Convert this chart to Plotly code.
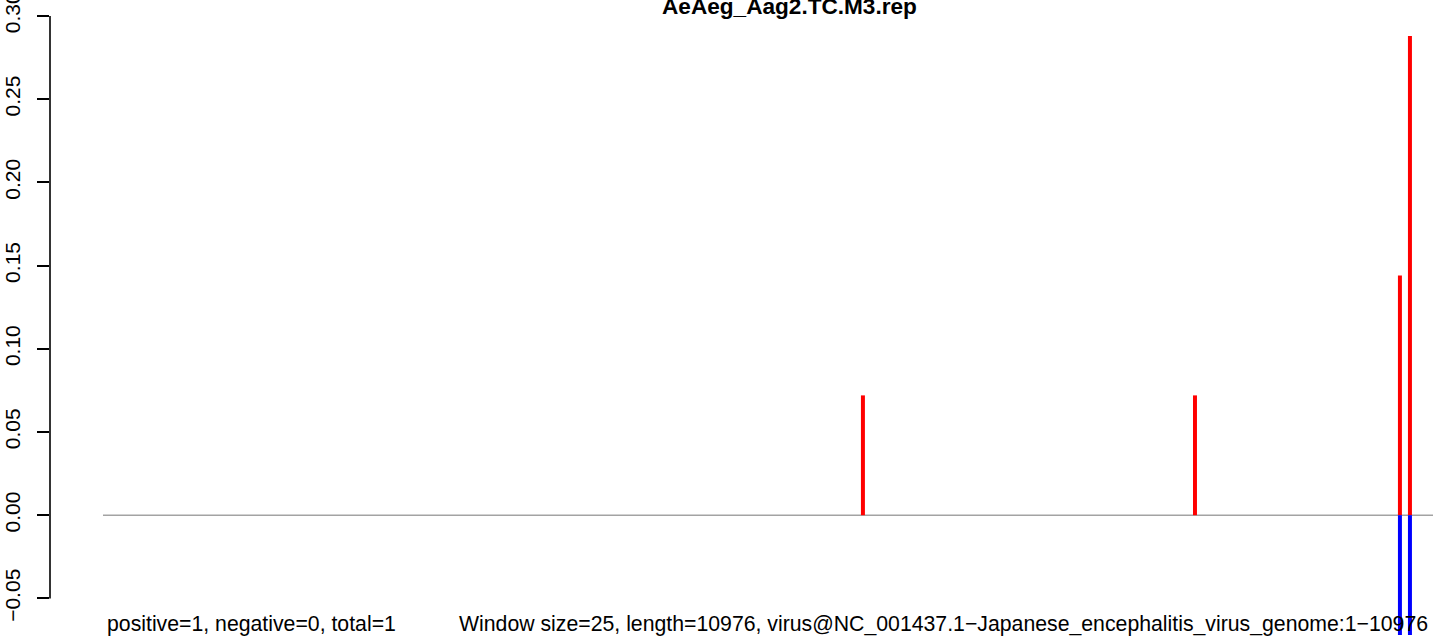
import plotly.graph_objects as go

# Window counts along the genome (position in nt, normalised count)
pos_x = [6296, 9047, 10745, 10828]
pos_y = [0.072, 0.072, 0.144, 0.288]
neg_x = [10745, 10828]
neg_y = [-0.072, -0.072]

y_ticks = [-0.05, 0.00, 0.05, 0.10, 0.15, 0.20, 0.25, 0.30]
y_tick_text = ["\u22120.05", "0.00", "0.05", "0.10", "0.15", "0.20", "0.25", "0.30"]

genome_len = 10976
title = "AeAeg_Aag2.TC.M3.rep"
left_note = "positive=1, negative=0, total=1"
right_note = ("Window size=25, length=10976, "
              "virus@NC_001437.1\u2212Japanese_encephalitis_virus_genome:1\u221210976")

W, H = 1433, 639
FONT = "Liberation Sans, Arial, Helvetica, sans-serif"

fig = go.Figure()
fig.add_trace(go.Bar(x=pos_x, y=pos_y, width=33, marker=dict(color="#FF0000", line=dict(width=0)),
                     showlegend=False, hoverinfo="skip"))
fig.add_trace(go.Bar(x=neg_x, y=neg_y, width=33, marker=dict(color="#0000FF", line=dict(width=0)),
                     showlegend=False, hoverinfo="skip"))

# zero baseline
fig.add_shape(type="line", xref="x", yref="y", x0=0, x1=11100, y0=0, y1=0,
              line=dict(color="#A3A3A3", width=1.5), layer="below")
# y axis spine spanning the tick range only
fig.add_shape(type="line", xref="paper", yref="y", x0=0, x1=0, y0=-0.05, y1=0.30,
              line=dict(color="black", width=1.6))

fig.update_layout(
    width=W, height=H,
    margin=dict(l=50, r=0, t=12, b=0, autoexpand=False),
    plot_bgcolor="white", paper_bgcolor="white",
    barmode="overlay",
    font=dict(family=FONT, color="black"),
    xaxis=dict(range=[-439, 11019], visible=False, showgrid=False, zeroline=False,
               automargin=False),
    yaxis=dict(range=[-0.0744, 0.3024], showgrid=False, zeroline=False, showline=False,
               automargin=False,
               tickmode="array", tickvals=y_ticks, ticktext=y_tick_text,
               ticks="outside", ticklen=12, tickwidth=1.5, tickcolor="black",
               tickangle=-90, tickfont=dict(size=21, family=FONT, color="black"),
               ticklabelstandoff=9, ticklabeloverflow="allow"),
    annotations=[
        dict(text="<b>" + title + "</b>", xref="paper", yref="paper",
             x=(789.5 - 50) / 1383, y=1, yshift=6, xanchor="center", yanchor="middle",
             showarrow=False, font=dict(size=22.6, family=FONT, color="black")),
        dict(text=left_note, xref="paper", yref="paper",
             x=(105 - 50) / 1383, y=(639 - 624) / 627, xanchor="left", yanchor="middle",
             showarrow=False, font=dict(size=21.25, family=FONT, color="black")),
        dict(text=right_note, xref="paper", yref="paper",
             x=(457 - 50) / 1383, y=(639 - 624) / 627, xanchor="left", yanchor="middle",
             showarrow=False, font=dict(size=21.25, family=FONT, color="black")),
    ],
)

fig.write_html("out.html")
